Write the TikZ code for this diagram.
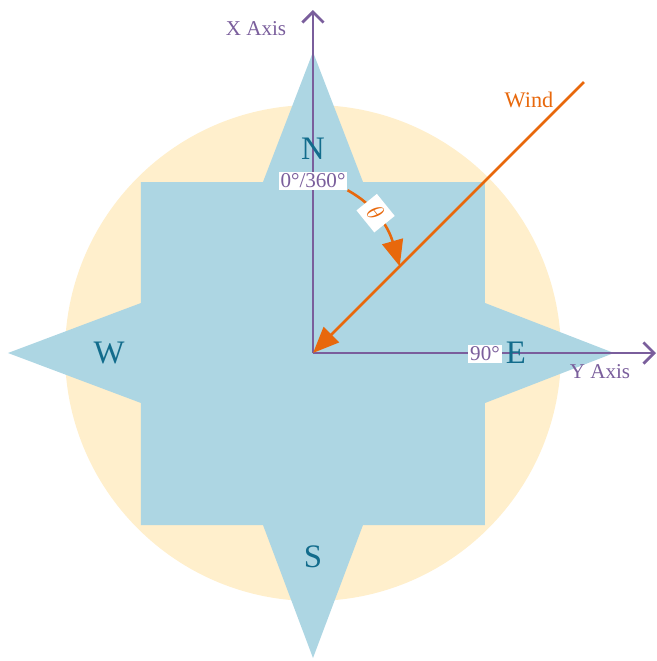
\documentclass[tikz,border=0pt]{standalone}
\usepackage{fontspec}
\setmainfont{Liberation Serif}
\usetikzlibrary{arrows.meta,calc}
\definecolor{cpsand}{RGB}{255,239,204}
\definecolor{cpblue}{RGB}{173,214,227}
\definecolor{cpteal}{RGB}{18,108,140}
\definecolor{cpaxis}{RGB}{122,94,156}
\definecolor{cpwind}{RGB}{232,104,12}
\tikzset{
  axisln/.style={draw=cpaxis, line width=2.3pt,
    -{Straight Barb[length=3.2mm,width=6.4mm,line width=2.3pt]}},
  windln/.style={draw=cpwind, line width=2.4pt,
    -{Triangle[length=7.8mm,width=6.4mm]}},
  cardinal/.style={text=cpteal, font=\fontsize{28}{30}\selectfont, inner sep=0pt},
  axlbl/.style={text=cpaxis, font=\fontsize{18}{20}\selectfont, inner sep=0pt},
  deglbl/.style={fill=white, text=cpaxis, font=\fontsize{18}{20}\selectfont, inner sep=1.6pt},
  anglbl/.style={fill=white, text=cpwind, font=\fontsize{20}{22}\selectfont\itshape,
    inner sep=4pt, minimum width=8.5mm, minimum height=7.5mm}
}

\begin{document}
\begin{tikzpicture}[x=0.3mm, y=0.3mm]
  \useasboundingbox (-313,-308) rectangle (344,353);
  \coordinate (O) at (0,0);
  % backdrop and compass star
  \fill[cpsand] (O) circle (248);
  \fill[cpblue] (0,301) -- (50,171) -- (172,171) -- (172,50) -- (301,0)
    -- (172,-50) -- (172,-172) -- (50,-172) -- (0,-305) -- (-50,-172)
    -- (-172,-172) -- (-172,-50) -- (-305,0) -- (-172,50) -- (-172,171)
    -- (-50,171) -- cycle;
  % axes
  \coordinate (xtip) at (0,343);
  \coordinate (ytip) at (343,0);
  \draw[axisln] (O) -- (xtip);
  \draw[axisln] (O) -- (ytip);
  \node[axlbl] (xlbl) at (-57,324) {X Axis};
  \node[axlbl] (ylbl) at (287,-19) {Y Axis};
  % cardinal points
  \node[cardinal] (north) at (0,204) {N};
  \node[cardinal] (east) at (203,0) {E};
  \node[cardinal] (south) at (0,-204) {S};
  \node[cardinal] (west) at (-204,0) {W};
  \node[deglbl] (deg0) at (0,172) {0°/360°};
  \node[deglbl] (deg90) at (172,-1) {90°};
  % wind direction
  \coordinate (wtail) at (271,271);
  \coordinate (whit) at ($(O)!0.32!(wtail)$);
  \draw[windln] (wtail) -- (O);
  \node[text=cpwind, font=\fontsize{19}{21}\selectfont, inner sep=0pt] (wlbl) at (216,253) {Wind};
  \draw[windln, line width=2.2pt] (deg0.south east) to[out=-29, in=106]
    node[anglbl, sloped, pos=0.38] (theta) {$\theta$} (whit);
\end{tikzpicture}
\end{document}
